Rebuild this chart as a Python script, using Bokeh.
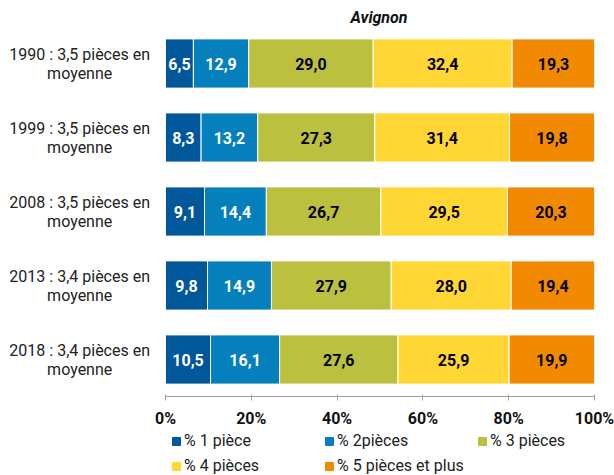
from bokeh.plotting import figure
from bokeh.layouts import column
from bokeh.models import (ColumnDataSource, FactorRange, Legend, LegendItem,
                          FixedTicker, Range1d, PrintfTickFormatter)
from bokeh.core.properties import value
from bokeh.embed import file_html
from bokeh.resources import INLINE

years = ["1990", "1999", "2008", "2013", "2018"]
moyennes = ["3,5", "3,5", "3,5", "3,4", "3,4"]
categories = [f"{y} : {m} pièces en\nmoyenne" for y, m in zip(years, moyennes)]
series = ["% 1 pièce", "% 2pièces", "% 3 pièces", "% 4 pièces", "% 5 pièces et plus"]
p1 = [6.5, 8.3, 9.1, 9.8, 10.5]
p2 = [12.9, 13.2, 14.4, 14.9, 16.1]
p3 = [29.0, 27.3, 26.7, 27.9, 27.6]
p4 = [32.4, 31.4, 29.5, 28.0, 25.9]
p5 = [19.3, 19.8, 20.3, 19.4, 19.9]
values_list = [p1, p2, p3, p4, p5]
colors = ["#00579a", "#0580bc", "#bbc03f", "#ffd633", "#f18a00"]
text_colors = ["white", "white", "black", "black", "black"]
ticks = [0, 20, 40, 60, 80, 100]

FONT = "Roboto"
# layout constants (in data units of the x axis): room on the left for row labels
X_MIN = -38.46
LABEL_X = -20.0

p = figure(width=614, height=430, output_backend="svg", toolbar_location=None,
           y_range=FactorRange(*list(reversed(categories))),
           x_range=Range1d(X_MIN, 100),
           min_border_left=0, min_border_right=20, min_border_top=26,
           min_border_bottom=31)

p.title.text = "Avignon"
p.title.align = "left"
p.title.offset = 350
p.title.text_font = FONT
p.title.text_font_style = "bold italic"
p.title.text_font_size = "16px"
p.title.text_color = "#111111"
p.title.standoff = 0

keys = [f"s{i}" for i in range(5)]
data = {"cat": categories}
for k, v in zip(keys, values_list):
    data[k] = v
source = ColumnDataSource(data)

renderers = p.hbar_stack(keys, y="cat", height=0.665, color=colors, source=source,
                         line_color="white", line_width=1)

# value labels
for i, (v, tc) in enumerate(zip(values_list, text_colors)):
    left = [sum(values_list[j][r] for j in range(i)) for r in range(len(categories))]
    xs = [l + val / 2 for l, val in zip(left, v)]
    labels = [f"{val:.1f}".replace(".", ",") for val in v]
    src = ColumnDataSource(dict(x=xs, y=categories, t=labels))
    p.text(x="x", y="y", text="t", source=src, text_align="center",
           text_baseline="middle", text_font=value(FONT), text_font_style="bold",
           text_font_size="16px", text_color=tc)

# row labels, two centred lines
cat_src = ColumnDataSource(dict(x=[LABEL_X] * len(categories), y=categories, t=categories))
p.text(x="x", y="y", text="t", source=cat_src, text_align="center",
       text_baseline="middle", text_font=value(FONT), text_font_size="16px",
       text_color="#222222", text_line_height=1.0)

p.xgrid.visible = False
p.ygrid.visible = False
p.outline_line_color = None
p.yaxis.visible = False

p.xaxis.bounds = (0, 100)
p.xaxis.ticker = FixedTicker(ticks=ticks)
p.xaxis.formatter = PrintfTickFormatter(format="%d%%")
p.xaxis.axis_line_color = "#a0a0a0"
p.xaxis.major_tick_line_color = "#a0a0a0"
p.xaxis.major_tick_in = 2
p.xaxis.major_tick_out = 4
p.xaxis.minor_tick_line_color = None
p.xaxis.major_label_text_font = FONT
p.xaxis.major_label_text_font_style = "bold"
p.xaxis.major_label_text_font_size = "16px"
p.xaxis.major_label_text_color = "#111111"
p.xaxis.major_label_standoff = 8

# legend strip
lg = figure(width=614, height=45, output_backend="svg", toolbar_location=None,
            x_axis_type=None, y_axis_type=None, min_border=0,
            x_range=Range1d(0, 1), y_range=Range1d(0, 1))
lg.outline_line_color = None
lg.grid.visible = False
dummies = [lg.hbar(y=[0], left=[0], right=[0], height=0, color=c) for c in colors]
items = [LegendItem(label=s, renderers=[r]) for s, r in zip(series, dummies)]
for chunk, loc in ((items[:3], (171, 25)), (items[3:], (171, 0))):
    legend = Legend(items=chunk, orientation="horizontal", location=loc,
                    glyph_width=10, glyph_height=10, label_width=90, label_height=18,
                    label_standoff=3, spacing=50, padding=0, margin=0,
                    label_text_font=FONT, label_text_font_size="16px",
                    label_text_color="#222222", border_line_color=None,
                    background_fill_alpha=0)
    lg.add_layout(legend)

layout = column(p, lg, spacing=0)
open("out.html", "w").write(file_html(layout, INLINE))
